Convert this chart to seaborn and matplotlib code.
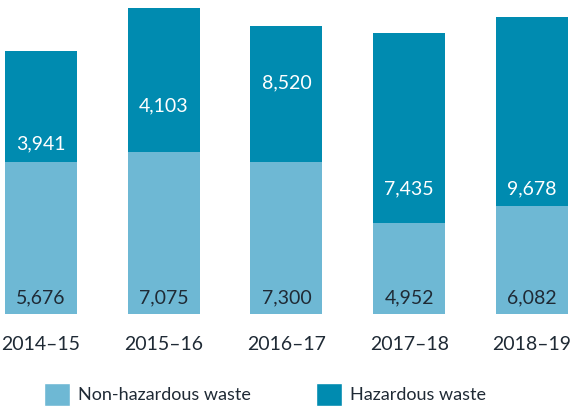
import matplotlib
matplotlib.use("Agg")
import matplotlib.pyplot as plt
from matplotlib.patches import Patch
import pandas as pd
import seaborn as sns

# data as printed on the chart
years = ["2014–15", "2015–16", "2016–17", "2017–18", "2018–19"]
nonhaz_values = [5676, 7075, 7300, 4952, 6082]
haz_values = [3941, 4103, 8520, 7435, 9678]

# segment heights as drawn in the picture (the bars are not to scale)
nonhaz_drawn = [152, 162, 152, 91, 108]
haz_drawn = [111, 144, 136, 190, 189]

# where the hazardous labels sit in the picture
haz_label_y = [170, 208, 231, 125, 125]

light = "#6EB8D4"
dark = "#008BB0"
text_dark = "#1F2A35"

df = pd.DataFrame({"year": years, "nonhaz": nonhaz_drawn, "haz": haz_drawn})
df["total"] = df["nonhaz"] + df["haz"]

sns.set_theme(style="white")
plt.rcParams["font.family"] = ["Lato", "DejaVu Sans"]

fig = plt.figure(figsize=(5.7, 4.08), dpi=100)
ax = fig.add_axes([0, 94 / 408, 1, 314 / 408])

sns.barplot(data=df, x="year", y="total", color=dark, saturation=1, width=0.587,
            linewidth=0, ax=ax)
sns.barplot(data=df, x="year", y="nonhaz", color=light, saturation=1, width=0.587,
            linewidth=0, ax=ax)

for i in range(len(years)):
    ax.text(i, 16, f"{nonhaz_values[i]:,}", ha="center", va="center",
            fontsize=14, color=text_dark)
    ax.text(i, haz_label_y[i], f"{haz_values[i]:,}", ha="center", va="center",
            fontsize=14, color="white")

ax.set_xlim(-0.334, 4.31)
ax.set_ylim(0, 314)
ax.set_xlabel("")
ax.set_ylabel("")
ax.set_yticks([])
ax.tick_params(axis="x", length=0, pad=16, labelsize=14, labelcolor=text_dark)
sns.despine(ax=ax, left=True, bottom=True)

handles = [Patch(facecolor=light, label="Non-hazardous waste"),
           Patch(facecolor=dark, label="Hazardous waste")]
fig.legend(handles=handles, loc="lower center", bbox_to_anchor=(0.465, -0.035),
           ncol=2, frameon=False, fontsize=13, labelcolor=text_dark,
           handlelength=1.45, handleheight=1.6, handletextpad=0.45,
           columnspacing=3.6)

fig.savefig("out.png", dpi=100)
